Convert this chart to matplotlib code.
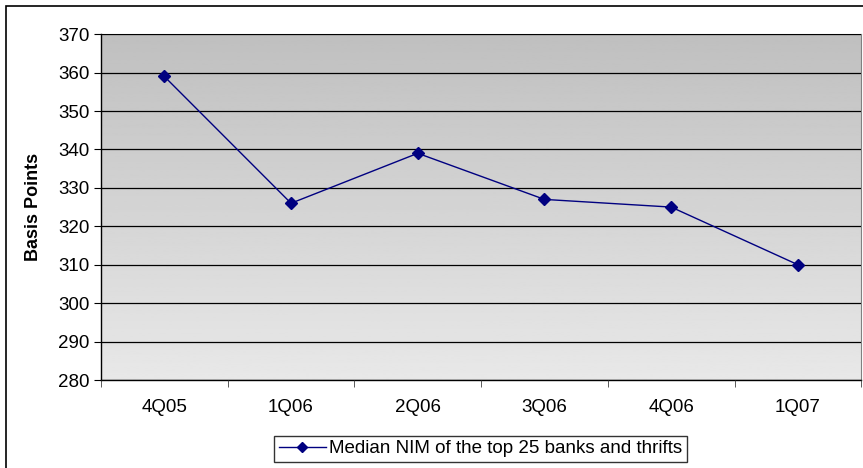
import numpy as np
import matplotlib
matplotlib.use("Agg")
import matplotlib.pyplot as plt
from matplotlib.patches import Rectangle

quarters = ["4Q05", "1Q06", "2Q06", "3Q06", "4Q06", "1Q07"]
nim_bp = [359, 326, 339, 327, 325, 310]
y_ticks = list(range(280, 371, 10))

plt.rcParams['font.family'] = ['Liberation Sans', 'DejaVu Sans']

fig = plt.figure(figsize=(8.63, 4.68), dpi=100)
ax = fig.add_axes([0.117, 0.188, 0.881, 0.739])

# outer chart frame (right/bottom edges are cropped in the original)
fig.patches.append(Rectangle((6 / 863, -0.05), 1.2, 1 - 6 / 468 + 0.05,
                             transform=fig.transFigure, fill=False,
                             edgecolor="black", linewidth=1.2))

x = np.arange(len(quarters))

# gray gradient background, darker at the top
grad = np.linspace(0.75, 0.91, 256).reshape(-1, 1)
ax.imshow(grad, cmap="gray", vmin=0, vmax=1, aspect="auto",
          extent=(-0.5, len(quarters) - 0.5, 280, 370), zorder=0)

ax.plot(x, nim_bp, color="#000080", linewidth=1.0, marker="D",
        markersize=6, label="Median NIM of the top 25 banks and thrifts",
        zorder=3)

ax.set_xlim(-0.5, len(quarters) - 0.5)
ax.set_ylim(280, 370)
ax.set_yticks(y_ticks)
ax.set_xticks(x)
ax.set_xticklabels(quarters)
ax.set_xticks(np.arange(-0.5, len(quarters), 1.0), minor=True)
ax.tick_params(axis="x", which="major", length=0, pad=14, labelsize=13.5)
ax.tick_params(axis="x", which="minor", length=5, direction="out", color="#404040")
ax.tick_params(axis="y", length=5, direction="out", labelsize=13.5, pad=3)

ax.grid(axis="y", color="black", linewidth=0.9, zorder=1)
ax.set_axisbelow(False)

for side in ["left", "bottom"]:
    ax.spines[side].set_color("black")
    ax.spines[side].set_linewidth(1.0)
ax.spines["top"].set_color("#808080")
ax.spines["right"].set_color("#808080")

ax.set_ylabel("Basis Points", fontsize=13, fontweight="bold", labelpad=12)

leg = fig.legend(loc="center", bbox_to_anchor=(0.557, 0.041), fontsize=13.5,
                 frameon=True, fancybox=False, edgecolor="black",
                 handlelength=2.5, handletextpad=0.2, borderpad=0.25,
                 markerscale=0.8)
leg.get_frame().set_linewidth(1.0)

fig.savefig("out.png", dpi=100)
